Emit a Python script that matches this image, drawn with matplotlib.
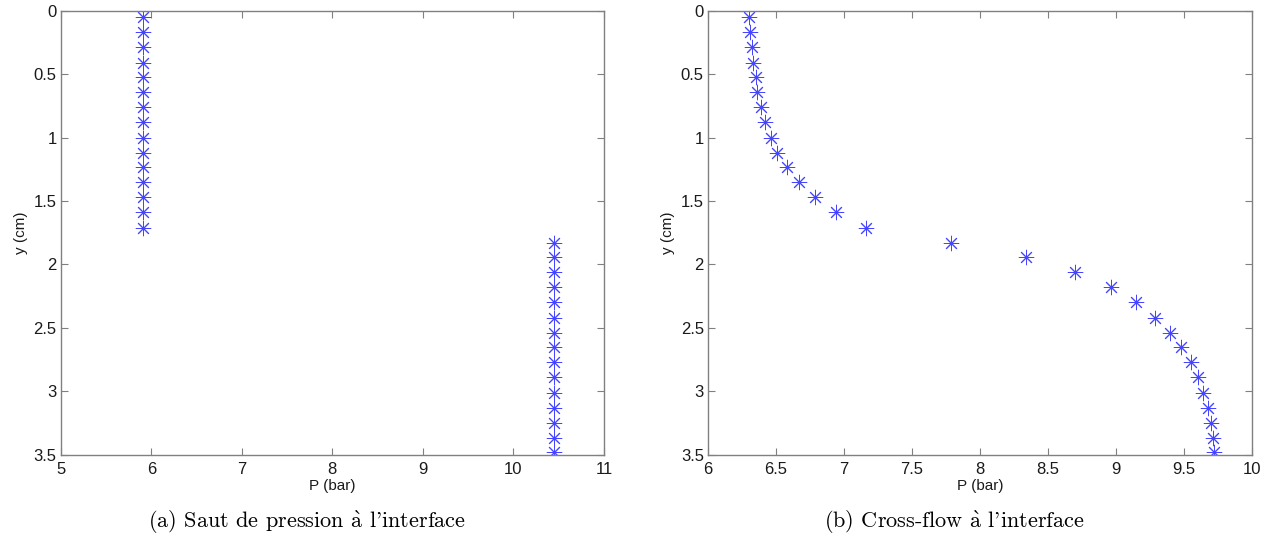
import numpy as np
import matplotlib
matplotlib.use("Agg")
import matplotlib.pyplot as plt

# Profondeur (cm), commune aux deux figures
y_cm = [0.05, 0.17, 0.29, 0.41, 0.52, 0.64, 0.76, 0.88, 1.00, 1.12,
        1.23, 1.35, 1.47, 1.59, 1.71, 1.83, 1.94, 2.06, 2.18, 2.30,
        2.42, 2.54, 2.65, 2.77, 2.89, 3.01, 3.13, 3.25, 3.37, 3.48]

# (a) saut de pression
p_saut = [5.91] * 15 + [10.45] * 15

# (b) cross-flow
p_cross = [6.30, 6.31, 6.32, 6.33, 6.35, 6.36, 6.39, 6.42, 6.46, 6.51,
           6.58, 6.67, 6.79, 6.94, 7.16, 7.79, 8.34, 8.70, 8.96, 9.15,
           9.29, 9.40, 9.48, 9.55, 9.60, 9.64, 9.68, 9.70, 9.71, 9.72]

# cmr10 : l'apostrophe ASCII donne le glyphe ’
captions = [r"(a) Saut de pression $\mathrm{\grave{a}}$ l'interface",
            r"(b) Cross-flow $\mathrm{\grave{a}}$ l'interface"]

plt.rcParams["font.family"] = ["Liberation Sans", "DejaVu Sans"]
plt.rcParams["mathtext.fontset"] = "cm"

fig = plt.figure(figsize=(12.71, 5.42), dpi=100)
ax1 = fig.add_axes([60.7 / 1271, 87.3 / 542, 543.3 / 1271, 444 / 542])
ax2 = fig.add_axes([708 / 1271, 87.3 / 542, 544 / 1271, 444 / 542])

asterisk = (8, 2, 0)
for ax, p in [(ax1, p_saut), (ax2, p_cross)]:
    ax.plot(p, y_cm, linestyle="none", marker=asterisk, markersize=11,
            markeredgewidth=0.7, color="#4545ff")
    ax.set_ylim(3.5, 0)
    ax.set_yticks([0, 0.5, 1, 1.5, 2, 2.5, 3, 3.5])
    ax.set_yticklabels(["0", "0.5", "1", "1.5", "2", "2.5", "3", "3.5"])
    ax.tick_params(direction="in", length=5, width=0.8, color="#808080",
                   labelsize=12, labelcolor="#1a1a1a", pad=3,
                   top=True, right=True)
    ax.tick_params(axis="x", pad=5)
    for s in ax.spines.values():
        s.set_color("#808080")
        s.set_linewidth(1.0)
    ax.set_xlabel("P (bar)", fontsize=11, color="#1a1a1a", labelpad=2)
    ax.set_ylabel("y (cm)", fontsize=11, color="#1a1a1a", labelpad=4)

ax1.set_xlim(5, 11)
ax1.set_xticks([5, 6, 7, 8, 9, 10, 11])
ax2.set_xlim(6, 10)
ax2.set_xticks([6, 6.5, 7, 7.5, 8, 8.5, 9, 9.5, 10])
ax2.set_xticklabels(["6", "6.5", "7", "7.5", "8", "8.5", "9", "9.5", "10"])

cap_font = ["cmr10", "DejaVu Serif"]
fig.text(307 / 1271, 20 / 542, captions[0], ha="center", va="center",
         fontsize=16, family=cap_font)
fig.text(954 / 1271, 20 / 542, captions[1], ha="center", va="center",
         fontsize=16, family=cap_font)

fig.savefig("out.png", dpi=100)
